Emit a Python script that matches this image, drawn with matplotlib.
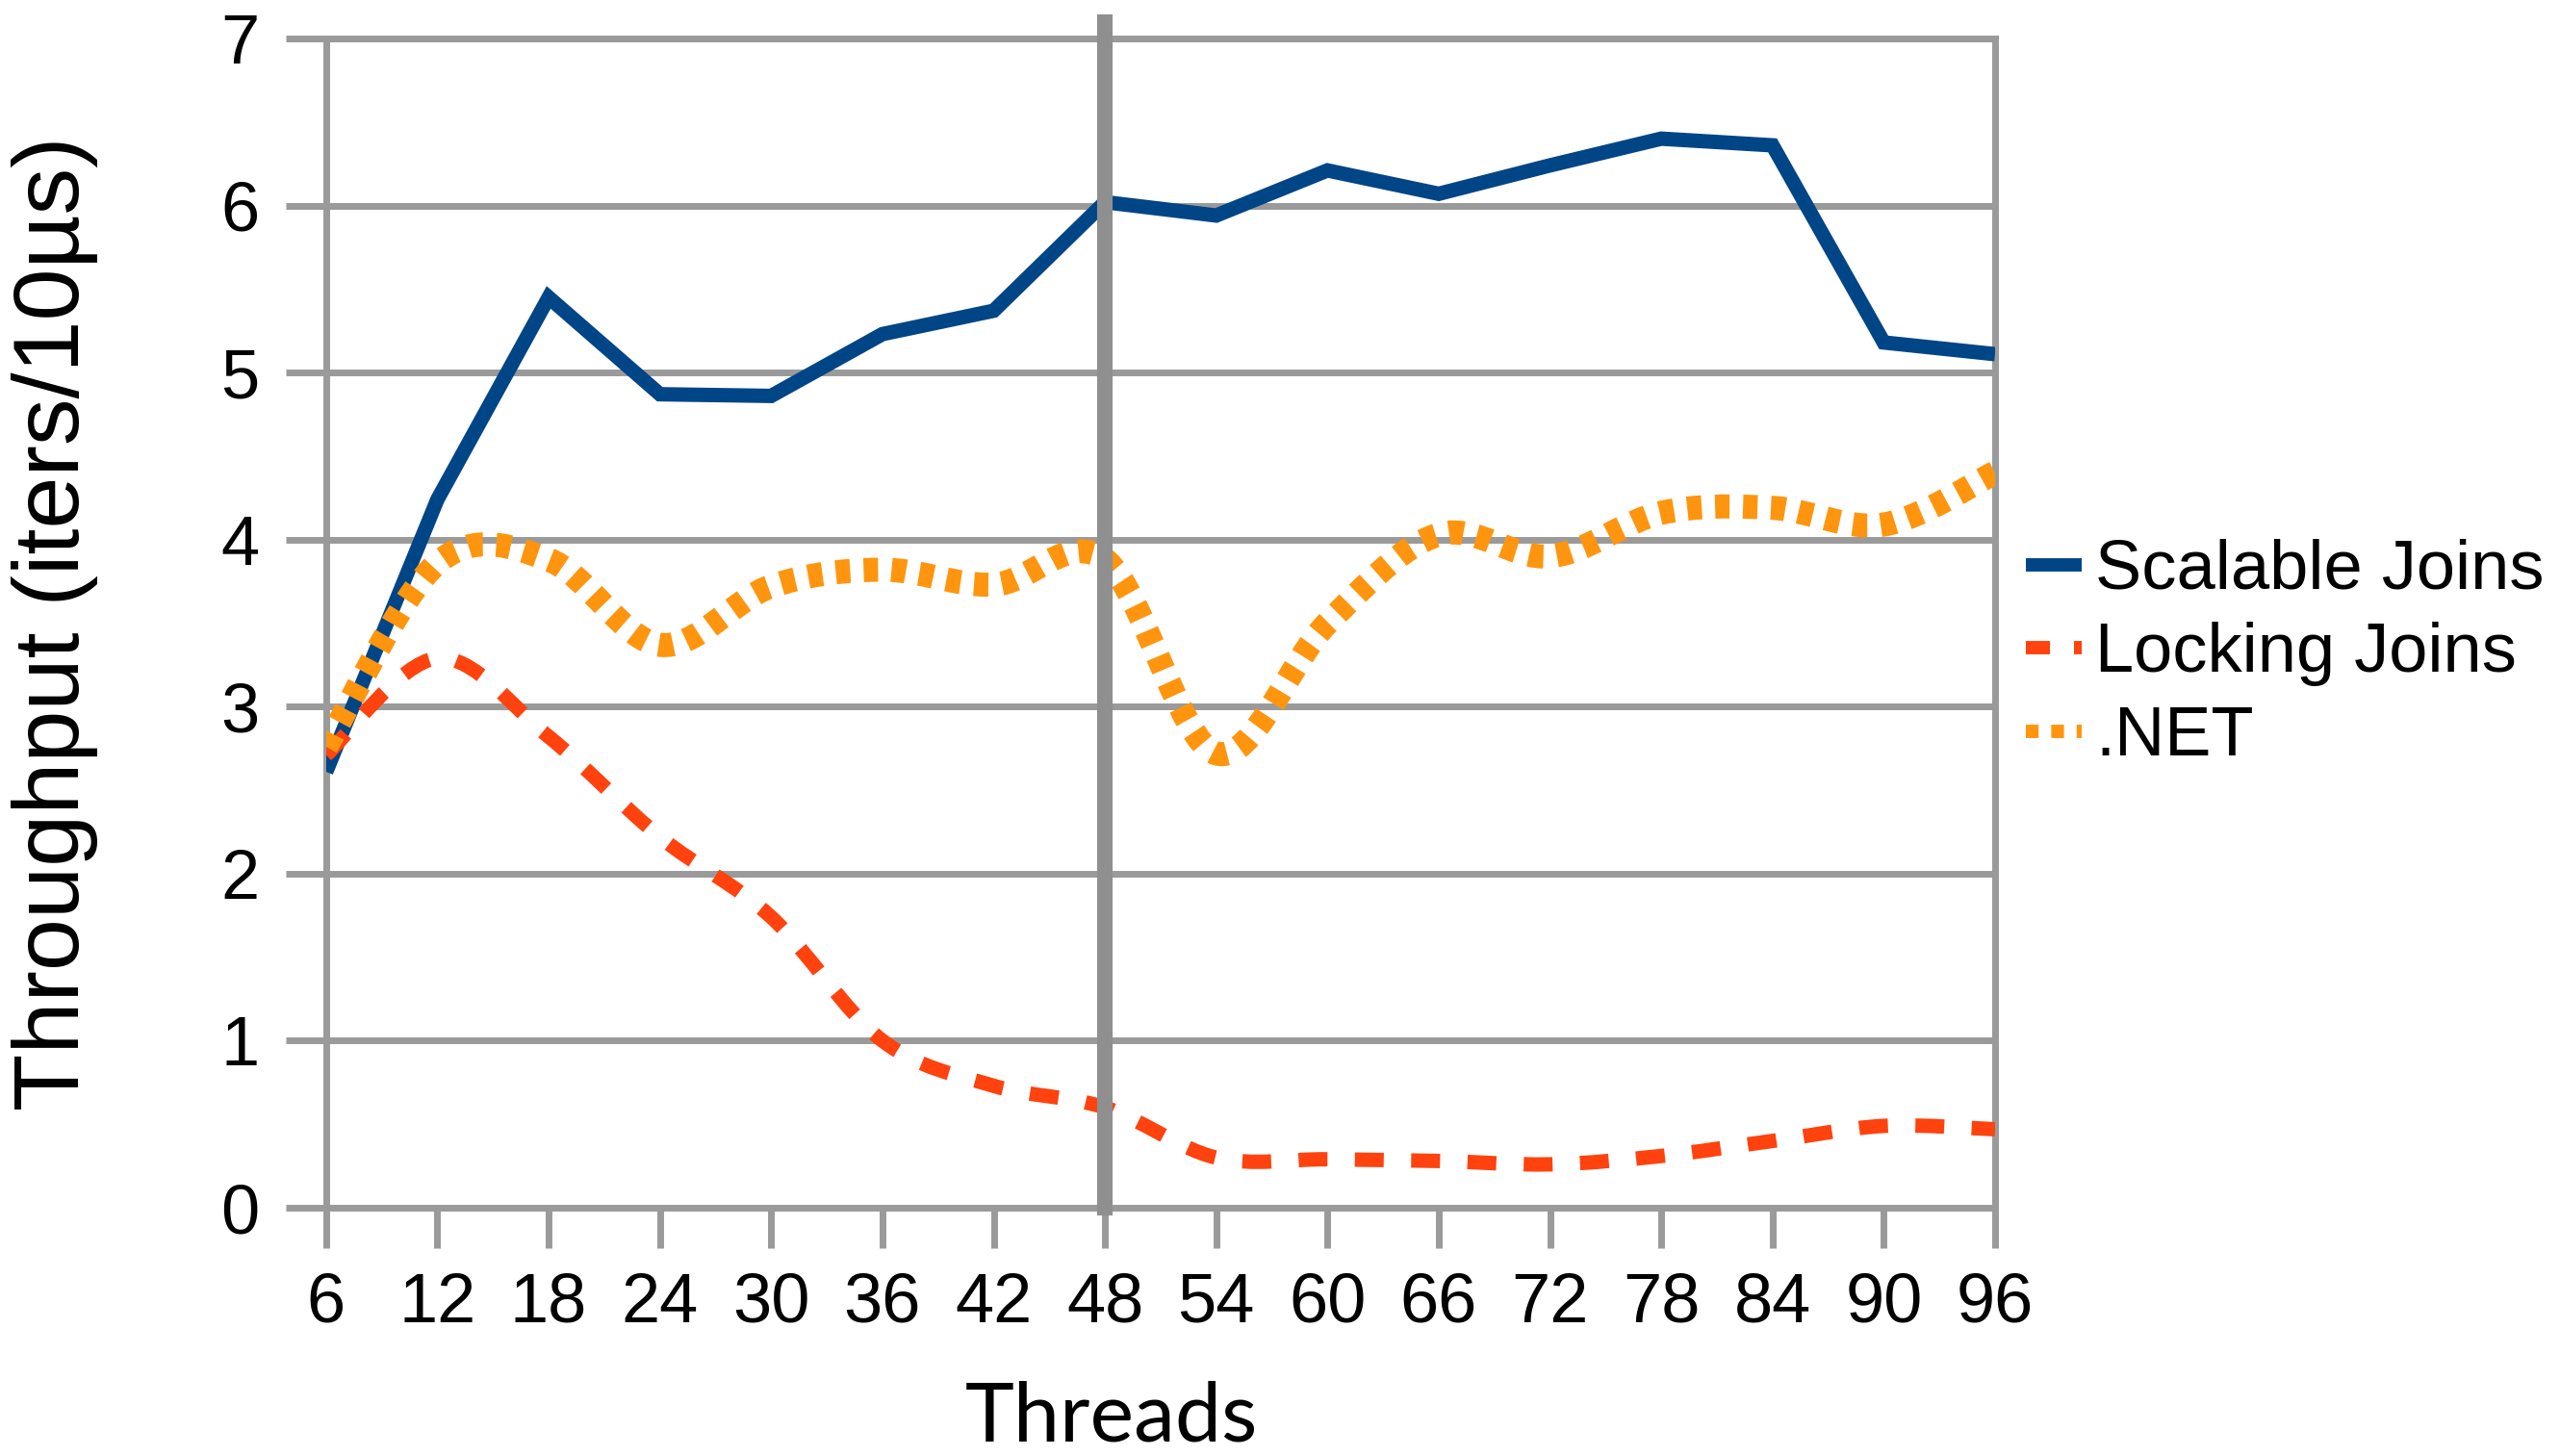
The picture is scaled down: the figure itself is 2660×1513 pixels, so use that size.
import matplotlib
matplotlib.use('Agg')
import matplotlib.pyplot as plt
from matplotlib.path import Path
from matplotlib.patches import PathPatch
from matplotlib.lines import Line2D

# Data
threads = [6, 12, 18, 24, 30, 36, 42, 48, 54, 60, 66, 72, 78, 84, 90, 96]
scalable = [2.61, 4.24, 5.45, 4.87, 4.86, 5.23, 5.37, 6.02, 5.94, 6.21, 6.07, 6.24, 6.40, 6.36, 5.18, 5.11]
locking = [2.71, 3.29, 2.82, 2.22, 1.74, 1.00, 0.73, 0.60, 0.30, 0.29, 0.28, 0.26, 0.31, 0.40, 0.49, 0.47]
dotnet = [2.76, 3.86, 3.88, 3.37, 3.72, 3.82, 3.73, 3.88, 2.72, 3.50, 4.03, 3.90, 4.16, 4.19, 4.09, 4.40]
yticks = [0, 1, 2, 3, 4, 5, 6, 7]
marker_threads = 48

BLUE = '#004586'
RED = '#ff420e'
ORANGE = '#ff950e'
GRID = '#9a9a9a'

plt.rcParams['font.family'] = ['Liberation Sans', 'DejaVu Sans']


def smooth_path(xs, ys):
    """Bezier path through the points (Catmull-Rom style tangents)."""
    pts = list(zip(xs, ys))
    n = len(pts)
    verts = [pts[0]]
    codes = [Path.MOVETO]
    for i in range(n - 1):
        p_prev = pts[max(i - 1, 0)]
        p0 = pts[i]
        p1 = pts[i + 1]
        p_next = pts[min(i + 2, n - 1)]
        c1 = (p0[0] + (p1[0] - p_prev[0]) / 6, p0[1] + (p1[1] - p_prev[1]) / 6)
        c2 = (p1[0] - (p_next[0] - p0[0]) / 6, p1[1] - (p_next[1] - p0[1]) / 6)
        verts += [c1, c2, p1]
        codes += [Path.CURVE4] * 3
    return Path(verts, codes)


fig = plt.figure(figsize=(13.3, 7.565), dpi=200)
ax = fig.add_axes([0.1274, 0.1705, 0.7793 - 0.1274, 0.9736 - 0.1705])

# Scalable Joins: straight segments
ax.plot(threads, scalable, color=BLUE, lw=5.4, solid_joinstyle='miter',
        solid_capstyle='butt', zorder=3)

# Locking Joins and .NET: smoothed curves
red_patch = PathPatch(smooth_path(threads, locking), fill=False, edgecolor=RED,
                      lw=5.4, linestyle=(0, (2.0, 1.9)), capstyle='butt', zorder=3)
ax.add_patch(red_patch)
orange_patch = PathPatch(smooth_path(threads, dotnet), fill=False, edgecolor=ORANGE,
                         lw=9.0, linestyle=(0, (0.6, 0.56)), capstyle='butt', zorder=3)
ax.add_patch(orange_patch)

# thick marker line at 48 threads
ax.axvline(marker_threads, ymin=0, ymax=1.014, color='#8f8f8f', lw=5.8,
           clip_on=False, zorder=4)

ax.set_xlim(threads[0], threads[-1])
ax.set_ylim(0, 7)
ax.set_xticks(threads)
ax.set_yticks(yticks)
ax.yaxis.grid(True, color=GRID, lw=2.5)
ax.set_axisbelow(True)

for side in ['left', 'right', 'top', 'bottom']:
    ax.spines[side].set_color(GRID)
    ax.spines[side].set_linewidth(2.5)

ax.tick_params(axis='both', direction='out', length=15, width=2.5, color=GRID,
               labelsize=26, labelcolor='black')
ax.tick_params(axis='x', pad=9)
ax.tick_params(axis='y', pad=10)

fig.text(57 / 2660, 0.5 * (0.1705 + 0.9736), 'Throughput (iters/10µs)',
         rotation=90, ha='center', va='center', fontsize=35)
fig.text(1155 / 2660, 1 - 1498 / 1513, 'Threads', ha='center', va='baseline',
         fontsize=31, family=['Lato', 'DejaVu Sans'])

handles = [
    Line2D([], [], color=BLUE, lw=5.0, solid_capstyle='butt'),
    Line2D([], [], color=RED, lw=5.0, linestyle=(0, (1.8, 1.8)), dash_capstyle='butt'),
    Line2D([], [], color=ORANGE, lw=5.0, linestyle=(0, (0.95, 0.95)), dash_capstyle='butt'),
]
fig.legend(handles, ['Scalable Joins', 'Locking Joins', '.NET'],
           loc='upper left', bbox_to_anchor=(2105 / 2660, 1 - 560 / 1513),
           frameon=False, fontsize=26, borderpad=0, borderaxespad=0,
           handlelength=0.8, handletextpad=0.2, labelspacing=0.27)

fig.savefig('out.png', dpi=200)
